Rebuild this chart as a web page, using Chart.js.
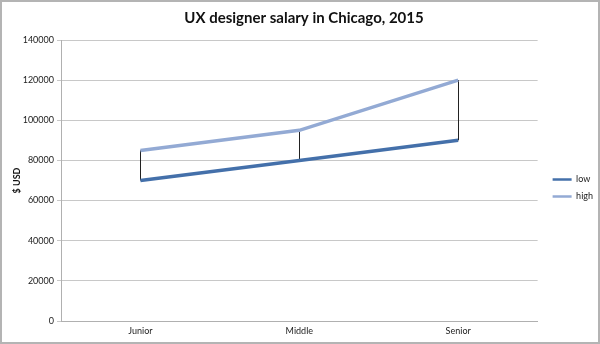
<!DOCTYPE html>
<html>
<head>
<meta charset="utf-8">
<script src="https://cdn.jsdelivr.net/npm/chart.js@4.4.0/dist/chart.umd.min.js"></script>
<style>
  html, body { margin: 0; padding: 0; background: #fff; }
  #wrap { width: 600px; height: 344px; }
</style>
</head>
<body>
<div id="wrap"><canvas id="myChart" width="600" height="344"></canvas></div>
<script>
const levels = ['Junior', 'Middle', 'Senior'];
const low = [70000, 80000, 90000];
const high = [85000, 95000, 120000];
const yTicks = [0, 20000, 40000, 60000, 80000, 100000, 120000, 140000];

const fontFamily = 'Lato, "Open Sans", sans-serif';

// white background + grey frame around the whole chart
const frame = {
    id: 'frame',
    beforeDraw(chart) {
        const ctx = chart.ctx;
        ctx.save();
        ctx.fillStyle = '#fff';
        ctx.fillRect(0, 0, chart.width, chart.height);
        ctx.strokeStyle = '#b4b4b4';
        ctx.lineWidth = 2;
        ctx.strokeRect(1, 1, chart.width - 2, chart.height - 2);
        ctx.restore();
    }
};

// nudge the legend a bit right and down, next to the lines
const legendNudge = {
    id: 'legendNudge',
    afterLayout(chart) {
        const lg = chart.legend;
        lg.left += 7; lg.right += 7;
        lg.top += 18; lg.bottom += 18;
    }
};

// thin black high-low lines joining the two series at each level
const hiLo = {
    id: 'hiLo',
    beforeDatasetsDraw(chart) {
        const ctx = chart.ctx;
        const x = chart.scales.x;
        const y = chart.scales.y;
        ctx.save();
        ctx.strokeStyle = '#222';
        ctx.lineWidth = 1;
        levels.forEach((lvl, i) => {
            const px = Math.round(x.getPixelForValue(i)) + 0.5;
            ctx.beginPath();
            ctx.moveTo(px, y.getPixelForValue(low[i]));
            ctx.lineTo(px, y.getPixelForValue(high[i]));
            ctx.stroke();
        });
        ctx.restore();
    }
};

const data = {
    labels: levels,
    datasets: [{
        label: 'low',
        data: low,
        borderColor: '#4470aa',
        backgroundColor: '#4470aa',
        borderWidth: 3.5,
        pointRadius: 0,
        tension: 0
    }, {
        label: 'high',
        data: high,
        borderColor: '#93aad4',
        backgroundColor: '#93aad4',
        borderWidth: 3.5,
        pointRadius: 0,
        tension: 0
    }]
};

const config = {
    type: 'line',
    data,
    options: {
        responsive: false,
        animation: false,
        layout: { padding: { top: 0, right: 4, bottom: 4, left: 12 } },
        plugins: {
            title: {
                display: true,
                text: 'UX designer salary in Chicago, 2015',
                color: '#111',
                font: { family: fontFamily, size: 15, weight: 'bold' },
                padding: { top: 9, bottom: 13 }
            },
            legend: {
                position: 'right',
                align: 'center',
                labels: {
                    color: '#222',
                    font: { family: fontFamily, size: 9 },
                    boxWidth: 19,
                    boxHeight: 2.5,
                    padding: 8,
                    generateLabels(chart) {
                        return Chart.defaults.plugins.legend.labels.generateLabels(chart)
                            .map(item => ({ ...item, lineWidth: 0 }));
                    }
                }
            },
            tooltip: { enabled: false }
        },
        scales: {
            x: {
                offset: true,
                grid: { display: false, drawTicks: false },
                border: { color: '#b0b0b0', width: 1 },
                ticks: {
                    color: '#222',
                    font: { family: fontFamily, size: 9 },
                    padding: 5,
                    maxRotation: 0
                },
                afterFit(scale) { scale.height = 19; }
            },
            y: {
                min: 0,
                max: 140000,
                afterBuildTicks(scale) { scale.ticks = yTicks.map(v => ({ value: v })); },
                grid: { color: '#c8c8c8', lineWidth: 1, tickLength: 4 },
                border: { color: '#b0b0b0', width: 1 },
                ticks: {
                    color: '#222',
                    font: { family: fontFamily, size: 9 },
                    padding: 3,
                    callback: v => String(v)
                },
                title: {
                    display: true,
                    text: '$ USD',
                    color: '#111',
                    font: { family: fontFamily, size: 9, weight: 'bold' },
                    padding: { top: 0, bottom: 4 }
                },
                afterFit(scale) { scale.width = 49; }
            }
        }
    },
    plugins: [frame, legendNudge, hiLo]
};

var myChart = new Chart(
    document.getElementById('myChart'),
    config
);
</script>
</body>
</html>
